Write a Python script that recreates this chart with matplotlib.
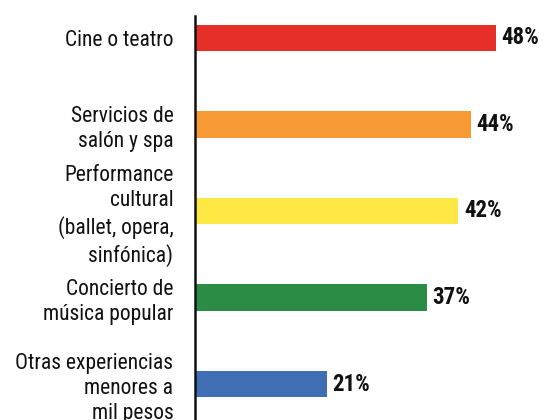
import matplotlib
matplotlib.use("Agg")
import matplotlib.pyplot as plt

categories = [
    "Cine o teatro",
    "Servicios de\nsalón y spa",
    "Performance\ncultural\n(ballet, opera,\nsinfónica)",
    "Concierto de\nmúsica popular",
    "Otras experiencias\nmenores a\nmil pesos",
]
values = [48, 44, 42, 37, 21]
colors = ["#E63027", "#F79A36", "#FEE843", "#2B8C45", "#3F6EB5"]

plt.rcParams["font.family"] = ["Roboto Condensed", "Liberation Sans", "DejaVu Sans"]

fig = plt.figure(figsize=(5.49, 4.2), dpi=100)
ax = fig.add_axes([195 / 549, 0, (549 - 195) / 549, 404 / 420])

y = list(range(len(values)))
ax.barh(y, values, height=0.31, color=colors)

for yi, v in zip(y, values):
    ax.text(v + 0.9, yi, f"{v}%", va="center", ha="left",
            fontsize=16.5, fontweight="bold", color="#111111")

ax.set_xlim(0, 56.5)
ax.set_ylim(4.416, -0.254)
ax.set_yticks(y)
ax.set_yticklabels(categories, fontsize=15.5, color="#111111", linespacing=1.27)
ax.tick_params(axis="y", length=0, pad=15.5)
ax.set_xticks([])

for s in ["top", "right", "bottom"]:
    ax.spines[s].set_visible(False)
ax.spines["left"].set_linewidth(1.8)
ax.spines["left"].set_color("#111111")

fig.savefig("out.png", dpi=100)
